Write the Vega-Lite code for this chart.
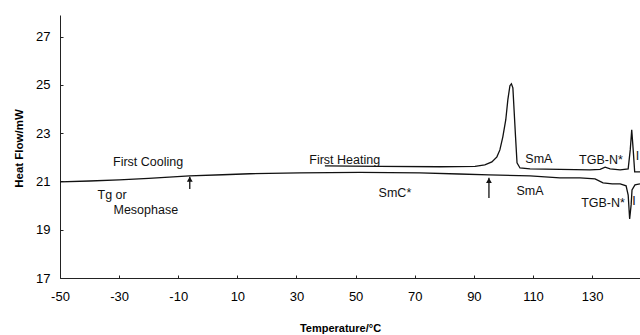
{
  "$schema": "https://vega.github.io/schema/vega-lite/v6.json",
  "width": 580,
  "height": 263,
  "autosize": {"type": "none"},
  "padding": {"left": 60, "top": 15, "right": 0, "bottom": 57},
  "background": "white",
  "config": {
    "view": {"stroke": null},
    "font": "Liberation Sans",
    "axis": {"grid": false, "domainColor": "#222", "tickColor": "#222", "labelColor": "#000", "titleColor": "#000", "labelFont": "Liberation Sans", "titleFont": "Liberation Sans"}
  },
  "datasets": {
    "curves": [
      {"t": -50, "v": 20.98, "s": "cool"}, {"t": -40, "v": 21.02, "s": "cool"}, {"t": -30, "v": 21.07, "s": "cool"}, {"t": -20, "v": 21.13, "s": "cool"}, {"t": -6.2, "v": 21.23, "s": "cool"}, {"t": 5, "v": 21.28, "s": "cool"}, {"t": 14.2, "v": 21.32, "s": "cool"}, {"t": 31.1, "v": 21.36, "s": "cool"}, {"t": 51.4, "v": 21.38, "s": "cool"}, {"t": 71.7, "v": 21.36, "s": "cool"}, {"t": 85, "v": 21.31, "s": "cool"}, {"t": 95.1, "v": 21.27, "s": "cool"}, {"t": 109, "v": 21.23, "s": "cool"}, {"t": 119.1, "v": 21.15, "s": "cool"}, {"t": 125.9, "v": 21.15, "s": "cool"}, {"t": 131, "v": 21.11, "s": "cool"}, {"t": 133.7, "v": 20.94, "s": "cool"}, {"t": 136.8, "v": 20.9, "s": "cool"}, {"t": 139.5, "v": 20.9, "s": "cool"}, {"t": 141.5, "v": 20.82, "s": "cool"}, {"t": 142.2, "v": 20.44, "s": "cool"}, {"t": 142.7, "v": 19.45, "s": "cool"}, {"t": 143.2, "v": 20.03, "s": "cool"}, {"t": 143.5, "v": 20.65, "s": "cool"}, {"t": 144.5, "v": 20.86, "s": "cool"}, {"t": 146.2, "v": 20.9, "s": "cool"},
      {"t": 39.6, "v": 21.65, "s": "heat"}, {"t": 58.2, "v": 21.63, "s": "heat"}, {"t": 78.5, "v": 21.61, "s": "heat"}, {"t": 90.4, "v": 21.63, "s": "heat"}, {"t": 93.7, "v": 21.69, "s": "heat"}, {"t": 96.1, "v": 21.81, "s": "heat"}, {"t": 97.8, "v": 22.02, "s": "heat"}, {"t": 98.8, "v": 22.31, "s": "heat"}, {"t": 99.8, "v": 22.85, "s": "heat"}, {"t": 100.8, "v": 23.56, "s": "heat"}, {"t": 101.5, "v": 24.39, "s": "heat"}, {"t": 102.2, "v": 24.97, "s": "heat"}, {"t": 102.7, "v": 25.05, "s": "heat"}, {"t": 103.2, "v": 24.88, "s": "heat"}, {"t": 103.6, "v": 23.97, "s": "heat"}, {"t": 104.1, "v": 22.85, "s": "heat"}, {"t": 104.6, "v": 21.77, "s": "heat"}, {"t": 105.6, "v": 21.56, "s": "heat"}, {"t": 109, "v": 21.52, "s": "heat"}, {"t": 119.1, "v": 21.5, "s": "heat"}, {"t": 129.3, "v": 21.48, "s": "heat"}, {"t": 132.7, "v": 21.5, "s": "heat"}, {"t": 134.4, "v": 21.59, "s": "heat"}, {"t": 136.1, "v": 21.52, "s": "heat"}, {"t": 139.5, "v": 21.48, "s": "heat"}, {"t": 142.2, "v": 21.52, "s": "heat"}, {"t": 142.9, "v": 22.31, "s": "heat"}, {"t": 143.4, "v": 23.14, "s": "heat"}, {"t": 143.9, "v": 22.31, "s": "heat"}, {"t": 144.4, "v": 21.4, "s": "heat"}, {"t": 146.2, "v": 21.4, "s": "heat"}
    ],
    "arrows": [
      {"t": -6.1, "v0": 20.69, "v1": 21.2, "vh": 21.09},
      {"t": 95.1, "v0": 20.32, "v1": 21.15, "vh": 21.04}
    ],
    "centerLabels": [
      {"t": -20.2, "v": 21.81, "txt": "First Cooling"},
      {"t": 46.3, "v": 21.9, "txt": "First Heating"},
      {"t": 63.3, "v": 20.53, "txt": "SmC*"},
      {"t": 112.0, "v": 21.94, "txt": "SmA"},
      {"t": 109.0, "v": 20.61, "txt": "SmA"},
      {"t": 133.0, "v": 21.9, "txt": "TGB-N*"},
      {"t": 133.7, "v": 20.11, "txt": "TGB-N*"},
      {"t": 144.2, "v": 20.2, "txt": "I"}
    ],
    "leftLabels": [
      {"t": -37.3, "v": 20.46, "txt": "Tg or"},
      {"t": -31.9, "v": 19.82, "txt": "Mesophase"},
      {"t": 144.8, "v": 22.06, "txt": "I"}
    ]
  },
  "layer": [
    {
      "data": {"name": "curves"},
      "mark": {"type": "line", "color": "#111", "strokeWidth": 1.3, "clip": true},
      "encoding": {
        "x": {"field": "t", "type": "quantitative",
          "scale": {"domain": [-50, 146.2], "nice": false, "zero": false},
          "axis": {"values": [-50,-45,-40,-35,-30,-25,-20,-15,-10,-5,0,5,10,15,20,25,30,35,40,45,50,55,60,65,70,75,80,85,90,95,100,105,110,115,120,125,130,135,140,145],
            "labelExpr": "(datum.value + 50) % 20 == 0 ? '' + datum.value : ''",
            "tickSize": -3, "labelPadding": 21, "labelFontSize": 13, "labelBaseline": "middle",
            "title": "Temperature/°C", "titleFontSize": 11, "titleFontWeight": "bold",
            "titleX": 280, "titleY": 50, "titleBaseline": "middle", "labelFlush": false, "labelOverlap": false}},
        "y": {"field": "v", "type": "quantitative",
          "scale": {"domain": [17, 27.9], "nice": false, "zero": false},
          "axis": {"values": [17,17.5,18,18.5,19,19.5,20,20.5,21,21.5,22,22.5,23,23.5,24,24.5,25,25.5,26,26.5,27,27.5],
            "labelExpr": "(datum.value - 17) % 2 == 0 ? '' + datum.value : ''",
            "tickSize": -3, "labelPadding": 13, "labelFontSize": 13, "labelFlush": false, "labelOverlap": false,
            "title": "Heat Flow/mW", "titleFontSize": 11.5, "titleFontWeight": "bold",
            "titleX": -41, "titleY": 133, "titleBaseline": "middle", "titleAngle": -90}},
        "detail": {"field": "s", "type": "nominal"}
      }
    },
    {
      "data": {"name": "arrows"},
      "mark": {"type": "rule", "color": "#111", "strokeWidth": 1.3},
      "encoding": {
        "x": {"field": "t", "type": "quantitative"},
        "y": {"field": "v0", "type": "quantitative"},
        "y2": {"field": "v1"}
      }
    },
    {
      "data": {"name": "arrows"},
      "mark": {"type": "point", "shape": "triangle-up", "filled": true, "color": "#111", "size": 34, "opacity": 1},
      "encoding": {
        "x": {"field": "t", "type": "quantitative"},
        "y": {"field": "vh", "type": "quantitative"}
      }
    },
    {
      "data": {"name": "centerLabels"},
      "mark": {"type": "text", "fontSize": 12.5, "color": "#111", "baseline": "middle", "align": "center", "clip": false},
      "encoding": {
        "x": {"field": "t", "type": "quantitative"},
        "y": {"field": "v", "type": "quantitative"},
        "text": {"field": "txt"}
      }
    },
    {
      "data": {"name": "leftLabels"},
      "mark": {"type": "text", "fontSize": 12.5, "color": "#111", "baseline": "middle", "align": "left", "clip": false},
      "encoding": {
        "x": {"field": "t", "type": "quantitative"},
        "y": {"field": "v", "type": "quantitative"},
        "text": {"field": "txt"}
      }
    }
  ]
}
